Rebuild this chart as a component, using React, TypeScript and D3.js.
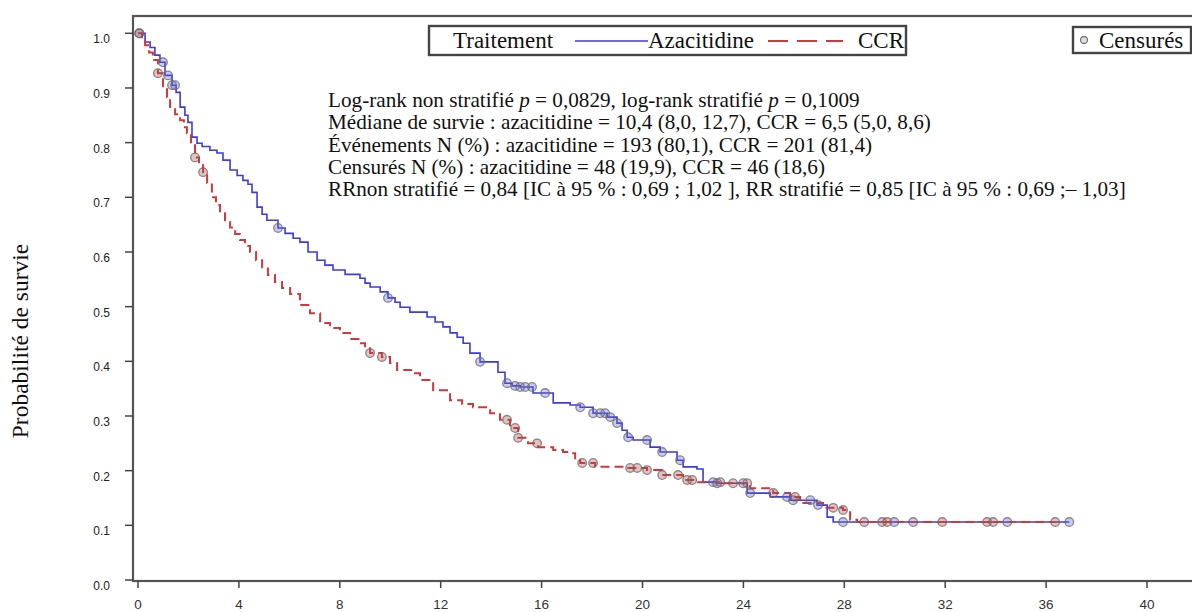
import React from "react";
import * as d3 from "d3";

// Kaplan–Meier step data (months, survival probability)
const azaTime = [0, 0.28, 0.48, 0.67, 0.87, 1.07, 1.35, 1.51, 1.67, 1.86, 1.98, 2.14, 2.34, 2.54, 2.85, 3.13, 3.37, 3.65, 3.93, 4.16, 4.36, 4.52, 4.72, 4.92, 5.11, 5.55, 5.83, 6.15, 6.42, 6.74, 7.1, 7.41, 7.73, 8.21, 8.8, 9.0, 9.2, 9.6, 9.91, 10.19, 10.39, 10.78, 11.46, 11.78, 12.09, 12.37, 12.65, 12.89, 13.16, 13.56, 14.04, 14.27, 14.55, 14.83, 15.15, 15.66, 16.22, 16.46, 17.13, 17.53, 18.04, 18.6, 18.99, 19.19, 19.39, 19.63, 20.3, 20.7, 21.37, 21.61, 22.16, 22.4, 22.96, 24.15, 25.06, 25.85, 26.92, 27.32, 27.56, 36.92];
const azaSurv = [1.0, 0.984, 0.974, 0.96, 0.947, 0.923, 0.905, 0.892, 0.865, 0.85, 0.837, 0.81, 0.799, 0.793, 0.786, 0.781, 0.768, 0.75, 0.74, 0.731, 0.724, 0.709, 0.682, 0.669, 0.658, 0.644, 0.634, 0.625, 0.618, 0.6, 0.585, 0.576, 0.567, 0.559, 0.552, 0.543, 0.536, 0.527, 0.516, 0.508, 0.499, 0.49, 0.481, 0.472, 0.463, 0.452, 0.444, 0.433, 0.415, 0.399, 0.399, 0.38, 0.36, 0.355, 0.353, 0.342, 0.342, 0.324, 0.32, 0.316, 0.305, 0.298, 0.287, 0.274, 0.261, 0.256, 0.243, 0.234, 0.219, 0.207, 0.203, 0.179, 0.177, 0.159, 0.152, 0.146, 0.137, 0.115, 0.106, 0.106];

const ccrTime = [0, 0.16, 0.28, 0.44, 0.59, 0.79, 0.99, 1.15, 1.27, 1.47, 1.67, 1.82, 1.94, 2.1, 2.26, 2.42, 2.58, 2.74, 2.93, 3.09, 3.25, 3.45, 3.65, 3.85, 4.04, 4.24, 4.44, 4.68, 4.92, 5.15, 5.43, 5.71, 6.03, 6.42, 6.82, 7.22, 7.61, 8.01, 8.41, 8.8, 9.0, 9.2, 9.67, 9.99, 10.27, 10.9, 11.18, 11.7, 12.37, 12.85, 13.28, 13.96, 14.35, 14.75, 15.07, 15.46, 15.86, 16.46, 16.85, 17.13, 17.33, 17.53, 18.12, 19.39, 20.18, 20.78, 21.61, 22.01, 23.2, 24.27, 25.18, 25.85, 26.25, 27.16, 27.95, 28.23, 28.51, 36.36];
const ccrSurv = [1.0, 0.987, 0.978, 0.965, 0.951, 0.927, 0.901, 0.883, 0.865, 0.852, 0.841, 0.828, 0.817, 0.795, 0.773, 0.759, 0.746, 0.726, 0.7, 0.686, 0.671, 0.658, 0.645, 0.633, 0.622, 0.611, 0.6, 0.585, 0.57, 0.558, 0.545, 0.534, 0.523, 0.503, 0.488, 0.47, 0.461, 0.452, 0.441, 0.433, 0.424, 0.415, 0.408, 0.397, 0.384, 0.378, 0.366, 0.347, 0.329, 0.322, 0.316, 0.305, 0.293, 0.278, 0.26, 0.25, 0.243, 0.238, 0.234, 0.232, 0.219, 0.214, 0.207, 0.205, 0.201, 0.192, 0.183, 0.179, 0.177, 0.168, 0.159, 0.152, 0.141, 0.132, 0.128, 0.11, 0.106, 0.106];

const azaCensor = [0.05, 0.99, 1.19, 1.35, 1.47, 5.55, 9.91, 13.56, 14.63, 14.95, 15.15, 15.35, 15.62, 16.14, 17.53, 18.04, 18.32, 18.52, 18.72, 18.99, 19.43, 20.18, 20.78, 21.49, 22.8, 22.96, 23.99, 24.27, 25.73, 25.97, 26.65, 26.96, 27.95, 29.98, 30.73, 34.46, 36.92];
const ccrCensor = [0.05, 0.79, 2.26, 2.58, 9.2, 9.67, 14.63, 14.95, 15.07, 15.82, 17.61, 18.04, 19.51, 19.79, 20.18, 20.78, 21.41, 21.77, 21.97, 23.08, 23.59, 24.15, 25.18, 26.05, 27.56, 27.95, 28.79, 29.5, 29.7, 31.88, 33.66, 33.9, 36.36];

const xTicks = [0, 4, 8, 12, 16, 20, 24, 28, 32, 36, 40];
const yTicks = [0, 0.1, 0.2, 0.3, 0.4, 0.5, 0.6, 0.7, 0.8, 0.9, 1.0];

const legendTitle = "Traitement";
const seriesNames = ["Azacitidine", "CCR"];
const censorLabel = "Censurés";
const yLabel = "Probabilité de survie";
const statLines = [
  "Médiane de survie : azacitidine = 10,4 (8,0, 12,7), CCR = 6,5 (5,0, 8,6)",
  "Événements N (%) : azacitidine = 193 (80,1), CCR = 201 (81,4)",
  "Censurés N (%) : azacitidine = 48 (19,9), CCR = 46 (18,6)",
  "RRnon stratifié = 0,84 [IC à 95 % : 0,69 ; 1,02 ], RR stratifié = 0,85 [IC à 95 % : 0,69 ;– 1,03]",
];

const W = 1192;
const H = 612;
const BLUE = "#3b3bdf";
const RED = "#d2373b";
const SERIF = "'Liberation Serif', 'Times New Roman', serif";
const SANS = "'Liberation Sans', Arial, sans-serif";

function survAt(times: number[], surv: number[], t: number) {
  const i = d3.bisectRight(times, t) - 1;
  return surv[Math.max(0, i)];
}

export default function App() {
  const x = d3.scaleLinear().domain([0, 40]).range([138, 1147]);
  const y = d3.scaleLinear().domain([0, 1]).range([580, 33.3]);
  const line = d3
    .line<[number, number]>()
    .x((d) => x(d[0]))
    .y((d) => y(d[1]))
    .curve(d3.curveStepAfter);

  const aza: [number, number][] = azaTime.map((t, i) => [t, azaSurv[i]]);
  const ccr: [number, number][] = ccrTime.map((t, i) => [t, ccrSurv[i]]);

  const left = 133;
  const top = 16;
  const bottom = 581;

  const censorPts = [
    ...azaCensor.map((t) => ({ t, s: survAt(azaTime, azaSurv, t), c: "#6a6ad0" })),
    ...ccrCensor.map((t) => ({ t, s: survAt(ccrTime, ccrSurv, t), c: "#b05050" })),
  ];

  return (
    <svg
      width={W}
      height={H}
      style={{ position: "absolute", left: 0, top: 0, background: "#fff" }}
    >
      {/* frame */}
      <rect x={left} y={top} width={W + 10 - left} height={bottom - top} fill="none" stroke="#555" strokeWidth={2.2} />

      {/* y ticks */}
      {yTicks.map((v) => (
        <g key={"y" + v}>
          <line x1={left - 8} x2={left} y1={y(v)} y2={y(v)} stroke="#444" strokeWidth={1.5} />
          <text x={110} y={y(v) + 10} textAnchor="end" fontFamily={SANS} fontSize={12} fill="#222">
            {v.toFixed(1)}
          </text>
        </g>
      ))}
      {/* x ticks */}
      {xTicks.map((v) => (
        <g key={"x" + v}>
          <line x1={x(v)} x2={x(v)} y1={bottom} y2={bottom + 7} stroke="#444" strokeWidth={1.5} />
          <text x={x(v)} y={609} textAnchor="middle" fontFamily={SANS} fontSize={13.5} fill="#333">
            {v}
          </text>
        </g>
      ))}

      {/* y label */}
      <text
        transform={`translate(28,341) rotate(-90)`}
        textAnchor="middle"
        fontFamily={SERIF}
        fontSize={23.5}
        fill="#111"
      >
        {yLabel}
      </text>

      {/* curves */}
      <path d={line(aza) || ""} fill="none" stroke={BLUE} strokeWidth={1.6} />
      <path d={line(ccr) || ""} fill="none" stroke={RED} strokeWidth={2} strokeDasharray="9,5" />

      {/* censor markers */}
      {censorPts.map((p, i) => (
        <circle
          key={"c" + i}
          cx={x(p.t)}
          cy={y(p.s)}
          r={4.3}
          fill={p.c}
          fillOpacity={0.35}
          stroke="#666"
          strokeOpacity={0.75}
          strokeWidth={1.3}
        />
      ))}

      {/* stats */}
      <text fontFamily={SERIF} fontSize={21.2} fill="#111">
        <tspan x={328} y={107}>
          Log-rank non stratifié <tspan fontStyle="italic">p</tspan> = 0,0829, log-rank stratifié{" "}
          <tspan fontStyle="italic">p</tspan> = 0,1009
        </tspan>
        {statLines.map((s, i) => (
          <tspan key={i} x={328} y={107 + (i + 1) * 22.3}>
            {s}
          </tspan>
        ))}
      </text>

      {/* legend */}
      <rect x={429} y={26} width={477} height={29} fill="#fff" stroke="#444" strokeWidth={2.4} />
      <text x={453} y={48} fontFamily={SERIF} fontSize={23} fill="#111">
        {legendTitle}
      </text>
      <line x1={575} x2={648} y1={41} y2={41} stroke={BLUE} strokeWidth={1.6} />
      <text x={648} y={48} fontFamily={SERIF} fontSize={23} fill="#111">
        {seriesNames[0]}
      </text>
      <line x1={768} x2={843} y1={41} y2={41} stroke={RED} strokeWidth={1.8} strokeDasharray="20,9" />
      <text x={858} y={48} fontFamily={SERIF} fontSize={23} fill="#111">
        {seriesNames[1]}
      </text>

      <rect x={1073} y={27} width={118} height={26} fill="#fff" stroke="#444" strokeWidth={2.4} />
      <circle cx={1084} cy={40} r={3.5} fill="#999" fillOpacity={0.3} stroke="#777" strokeWidth={1.3} />
      <text x={1099} y={48} fontFamily={SERIF} fontSize={23} fill="#111">
        {censorLabel}
      </text>
    </svg>
  );
}
